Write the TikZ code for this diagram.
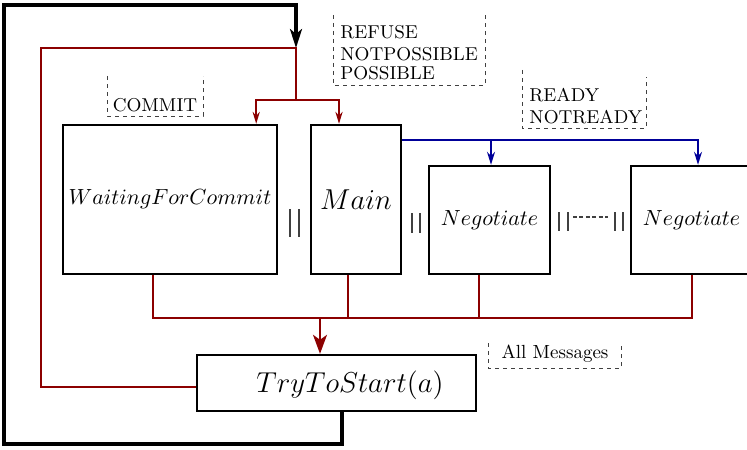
\documentclass[tikz,border=0pt]{standalone}
\usetikzlibrary{arrows.meta}
\definecolor{rl}{rgb}{0.55,0,0}
\definecolor{bl}{rgb}{0,0,0.6}
\begin{document}
\begin{tikzpicture}[x=0.5pt,y=-0.5pt,
  box/.style={draw=black,line width=1.2pt,rectangle,inner sep=0.5pt,align=center},
  redl/.style={draw=rl,line width=0.9pt},
  bluel/.style={draw=bl,line width=0.9pt},
  blkl/.style={draw=black,line width=1.6pt},
  dashlbl/.style={draw=black!75,line width=0.5pt,dash pattern=on 2pt off 2pt},
  sep/.style={draw=black!75,line width=0.6pt},
  smallred/.style={-{Stealth[length=6pt,width=3.6pt]}},
  bigred/.style={-{Stealth[length=9.5pt,width=7pt,inset=2.5pt]}},
  bigblk/.style={-{Stealth[length=9.5pt,width=6pt,inset=2.5pt]}},
  bluearr/.style={-{Stealth[length=6.5pt,width=4pt]}},
  lbl/.style={inner sep=0pt,font=\fontsize{9.3}{11}\selectfont}
]
\useasboundingbox (0,0) rectangle (747,449);

% boxes
\node[box,minimum width=107pt,minimum height=74.5pt] (wfc) at (170,199.5) {\fontsize{11.1}{14}\selectfont$WaitingForCommit$};
\node[box,minimum width=45pt,minimum height=74.5pt] (main) at (356,199.5) {\fontsize{13.3}{16}\selectfont$Main$};
\node[box,minimum width=60.5pt,minimum height=54pt] (neg1) at (489.5,220) {\fontsize{11.3}{14}\selectfont$Negotiate$};
\node[box,minimum width=60.5pt,minimum height=54pt] (neg2) at (691.5,220) {\fontsize{11.3}{14}\selectfont$Negotiate$};
\node[box,minimum width=139.5pt,minimum height=28pt] (tts) at (336.5,383) {};
\node[inner sep=0pt] (ttstext) at (350,385) {\fontsize{14}{17}\selectfont$TryToStart(a)$};

% named coordinates
\coordinate (top) at (296,48);
\coordinate (split) at (296,100);
\coordinate (bus) at (320,318);
\coordinate (wfcS) at ([xshift=-8.5pt]wfc.south);
\coordinate (mainS) at ([xshift=-4pt]main.south);
\coordinate (neg1S) at ([xshift=-5.25pt]neg1.south);
\coordinate (neg2S) at ([xshift=0.25pt]neg2.south);
\coordinate (wfcT) at ([xshift=-11pt]wfc.north east);
\coordinate (mainT) at ([xshift=-8.5pt]main.north);
\coordinate (mainE) at ([yshift=-8pt]main.north east);
\coordinate (n1T) at ([xshift=0.75pt]neg1.north);
\coordinate (n2T) at ([xshift=3.25pt]neg2.north);
\coordinate (ttsW) at ([yshift=-2pt]tts.west);
\coordinate (ttsS) at ([xshift=2.75pt]tts.south);
\coordinate (lowleft) at (4,444);
\coordinate (upleft) at (4,5);
\coordinate (redleft) at (41,48);

% black loop
\draw[blkl,bigblk] (ttsS) |- (lowleft) -- (upleft) -| (top);

% red loop from TryToStart back to top
\draw[redl] (ttsW) -| (redleft) -- (top) -- (split);
\draw[redl,smallred] (split) -| (wfcT);
\draw[redl,smallred] (split) -| (mainT);

% red bus
\draw[redl] (wfcS) -- (wfcS |- bus) -- (neg2S |- bus) -- (neg2S);
\draw[redl] (mainS) -- (mainS |- bus);
\draw[redl] (neg1S) -- (neg1S |- bus);
\draw[redl,bigred] (bus) -- (bus |- tts.north);

% blue
\draw[bluel,bluearr] (mainE) -| (n2T);
\draw[bluel,bluearr] (mainE -| n1T) -- (n1T);

% parallel separators
\draw[sep] (290,209) -- (290,237);
\draw[sep] (299,209) -- (299,237);
\draw[sep] (412,213) -- (412,233);
\draw[sep] (420,213) -- (420,233);
\draw[sep] (559,212) -- (559,231);
\draw[sep] (568,212) -- (568,231);
\draw[sep] (615,212) -- (615,231);
\draw[sep] (623,212) -- (623,231);
\draw[sep,dash pattern=on 2pt off 1.2pt] (573,217) -- (608,217);

% dashed labels
\draw[dashlbl] (107,76) |- (203,116) -- (203,76);
\node[lbl,anchor=base] (commit) at (155,111) {COMMIT};

\draw[dashlbl] (333,15) |- (485,85) -- (485,15);
\node[lbl,anchor=base west] (refuse) at (340,39) {REFUSE};
\node[lbl,anchor=base west] (notpos) at (340,61) {NOTPOSSIBLE};
\node[lbl,anchor=base west] (pos) at (340,79) {POSSIBLE};

\draw[dashlbl] (522,70) |- (646,128) -- (646,77);
\node[lbl,anchor=base west] (ready) at (529,101) {READY};
\node[lbl,anchor=base west] (notready) at (529,123) {NOTREADY};

\draw[dashlbl] (488,343) |- (621,368) -- (621,343);
\node[lbl,anchor=base,font=\fontsize{9.5}{11}\selectfont] (allmsg) at (555,358) {All Messages};
\end{tikzpicture}
\end{document}
